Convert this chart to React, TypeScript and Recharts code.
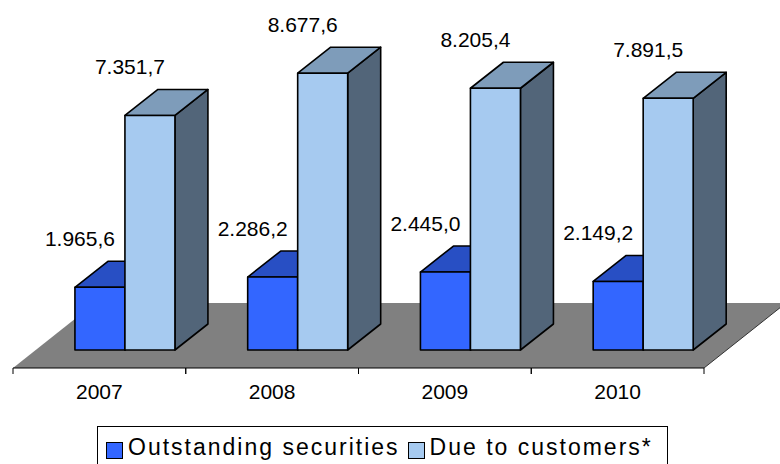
import { Bar, BarChart, LabelList, XAxis, YAxis } from "recharts"

const years = ["2007", "2008", "2009", "2010"]
const outstandingSecurities = [1965.6, 2286.2, 2445.0, 2149.2]
const dueToCustomers = [7351.7, 8677.6, 8205.4, 7891.5]

const chartData = years.map((year, i) => ({
  year,
  securities: outstandingSecurities[i],
  customers: dueToCustomers[i],
}))

const WIDTH = 780
const HEIGHT = 464
const PLOT_LEFT = 13
const PLOT_RIGHT = 704
const AXIS_Y = 368
const PLOT_TOP = 49

// 3D projection of the boxes and the floor
const DEPTH_X = 33
const DEPTH_Y = 26
const SHIFT_X = 26
const LIFT = 18
const FLOOR_X = 82
const FLOOR_Y = 65

const FONT = "'Liberation Sans', Arial, sans-serif"

// 7351.7 -> "7.351,7"
const formatValue = (v: number) => {
  const [int, dec] = v.toFixed(1).split(".")
  return int.replace(/\B(?=(\d{3})+(?!\d))/g, ".") + "," + dec
}

const makeBox = (front: string, top: string, side: string) => (props: any) => {
  const { x, y, width, height } = props
  const l = x + SHIFT_X
  const r = l + width
  const t = y - LIFT
  const b = y + height - LIFT
  const stroke = { stroke: "#000", strokeWidth: 1.6, strokeLinejoin: "round" as const }
  return (
    <g>
      <polygon
        points={`${r},${t} ${r + DEPTH_X},${t - DEPTH_Y} ${r + DEPTH_X},${b - DEPTH_Y} ${r},${b}`}
        fill={side}
        {...stroke}
      />
      <polygon
        points={`${l},${t} ${l + DEPTH_X},${t - DEPTH_Y} ${r + DEPTH_X},${t - DEPTH_Y} ${r},${t}`}
        fill={top}
        {...stroke}
      />
      <rect x={l} y={t} width={width} height={b - t} fill={front} {...stroke} />
    </g>
  )
}

const ValueLabel = (props: any) => {
  const { x, y, width, value } = props
  return (
    <text
      x={x + SHIFT_X + width / 2 - 20}
      y={y - LIFT - 41}
      textAnchor="middle"
      fontFamily={FONT}
      fontSize={21}
      fill="#000"
    >
      {formatValue(Number(value))}
    </text>
  )
}

// category label plus tick marks on the band edges
const YearTick = (props: any) => {
  const { x, y, payload, width, visibleTicksCount } = props
  const band = width / visibleTicksCount
  return (
    <g>
      <line x1={x - band / 2} y1={AXIS_Y} x2={x - band / 2} y2={AXIS_Y + 6} stroke="#000" />
      <line x1={x + band / 2} y1={AXIS_Y} x2={x + band / 2} y2={AXIS_Y + 6} stroke="#000" />
      <text x={x} y={y + 23} textAnchor="middle" fontFamily={FONT} fontSize={21} fill="#000">
        {payload.value}
      </text>
    </g>
  )
}

const LegendItem = ({ color, label }: { color: string; label: string }) => (
  <div style={{ display: "flex", alignItems: "center" }}>
    <span
      style={{
        width: 17,
        height: 17,
        boxSizing: "border-box",
        background: color,
        border: "1.5px solid #000",
        marginRight: 5,
        marginTop: 5,
      }}
    />
    <span style={{ fontSize: 23, letterSpacing: 2 }}>{label}</span>
  </div>
)

export default function App() {
  return (
    <div style={{ position: "absolute", left: 0, top: 0, width: WIDTH, height: HEIGHT, overflow: "hidden", background: "#fff", fontFamily: FONT }}>
      {/* floor */}
      <svg width={WIDTH} height={HEIGHT} style={{ position: "absolute", left: 0, top: 0 }}>
        <polygon
          points={`${PLOT_LEFT},${AXIS_Y} ${PLOT_RIGHT},${AXIS_Y} ${PLOT_RIGHT + FLOOR_X},${AXIS_Y - FLOOR_Y} ${PLOT_LEFT + FLOOR_X},${AXIS_Y - FLOOR_Y}`}
          fill="#808080"
        />
        <line x1={PLOT_RIGHT} y1={AXIS_Y} x2={PLOT_RIGHT + FLOOR_X} y2={AXIS_Y - FLOOR_Y} stroke="#333" strokeWidth={1} />
      </svg>
      <div style={{ position: "absolute", left: 0, top: 0 }}>
        <BarChart
          width={WIDTH}
          height={HEIGHT}
          data={chartData}
          margin={{ top: PLOT_TOP, left: PLOT_LEFT, right: WIDTH - PLOT_RIGHT, bottom: HEIGHT - AXIS_Y - 30 }}
          barCategoryGap="20.8%"
          barGap={0}
        >
          <XAxis
            dataKey="year"
            height={30}
            axisLine={{ stroke: "#000", strokeWidth: 1.2 }}
            tickLine={false}
            tick={<YearTick />}
            interval={0}
          />
          <YAxis hide domain={[0, 10000]} />
          <Bar dataKey="securities" isAnimationActive={false} shape={makeBox("#3366FF", "#284FC4", "#1E3C9A")}>
            <LabelList dataKey="securities" content={<ValueLabel />} />
          </Bar>
          <Bar dataKey="customers" isAnimationActive={false} shape={makeBox("#A6CAF0", "#7E9CBA", "#526579")}>
            <LabelList dataKey="customers" content={<ValueLabel />} />
          </Bar>
        </BarChart>
      </div>
      {/* legend */}
      <div
        style={{
          position: "absolute",
          left: 97,
          top: 426,
          width: 571,
          height: 42,
          border: "1px solid #000",
          boxSizing: "border-box",
          display: "flex",
          alignItems: "flex-start",
          paddingLeft: 8,
          paddingTop: 7,
          gap: 8,
        }}
      >
        <LegendItem color="#3366FF" label="Outstanding securities" />
        <LegendItem color="#A6CAF0" label="Due to customers*" />
      </div>
    </div>
  )
}
